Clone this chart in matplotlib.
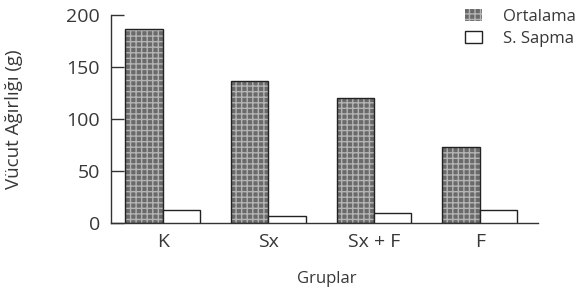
import numpy as np
import matplotlib
matplotlib.use("Agg")
import matplotlib.pyplot as plt
from matplotlib.patches import Patch

plt.rcParams['font.family'] = ['Open Sans', 'DejaVu Sans']
plt.rcParams['hatch.linewidth'] = 1.0

# Data
groups = ['K', 'Sx', 'Sx + F', 'F']
ortalama = [187, 136.5, 120, 73]
s_sapma = [12.7, 6.4, 9.3, 12.7]

fig = plt.figure(figsize=(5.84, 2.95), dpi=100)
ax = fig.add_axes([0.190, 0.244, 0.731, 0.705])

x = np.arange(len(groups))
w = 0.354
txt = '#383838'

# mean bars: gray checker look (light hatch on dark gray), then black outline
ax.bar(x - w / 2, ortalama, w, color='#6a6a6a', edgecolor='#b4b4b4', hatch='+++', linewidth=0, zorder=2)
ax.bar(x - w / 2, ortalama, w, fill=False, edgecolor='#222222', linewidth=1.0, zorder=3)
ax.bar(x + w / 2, s_sapma, w, color='white', edgecolor='#222222', linewidth=1.0, zorder=3)

# legend
h1 = Patch(facecolor='#6a6a6a', edgecolor='#b4b4b4', hatch='+++', linewidth=0)
h2 = Patch(facecolor='white', edgecolor='#222222', linewidth=1.0)
leg = ax.legend([h1, h2], ['Ortalama', 'S. Sapma'], loc='upper left',
                bbox_to_anchor=(0.829, 1.03), frameon=False, fontsize=12,
                handlelength=1.0, handleheight=0.75, handletextpad=1.3, labelspacing=0.38,
                borderaxespad=0, borderpad=0)
for t in leg.get_texts():
    t.set_color(txt)

ax.set_xlim(-0.49, 3.55)
ax.set_ylim(0, 200)
ax.set_yticks([0, 50, 100, 150, 200])
ax.set_xticks(x)
ax.set_xticklabels(groups)

for s in ['top', 'right']:
    ax.spines[s].set_visible(False)
for s in ['left', 'bottom']:
    ax.spines[s].set_color('#333333')
    ax.spines[s].set_linewidth(1.0)

ax.tick_params(axis='y', direction='in', length=9, width=1.0, color='#333333',
               labelsize=14, labelcolor=txt, pad=8)
ax.tick_params(axis='x', length=0, labelsize=14, labelcolor=txt, pad=7)

ax.set_ylabel('Vücut Ağırlığı (g)', fontsize=13.5, color=txt)
ax.yaxis.set_label_coords(-0.206, 0.5)
ax.set_xlabel('Gruplar', fontsize=12, color=txt)
ax.xaxis.set_label_coords(0.506, -0.23)

fig.savefig('out.png', dpi=100)
